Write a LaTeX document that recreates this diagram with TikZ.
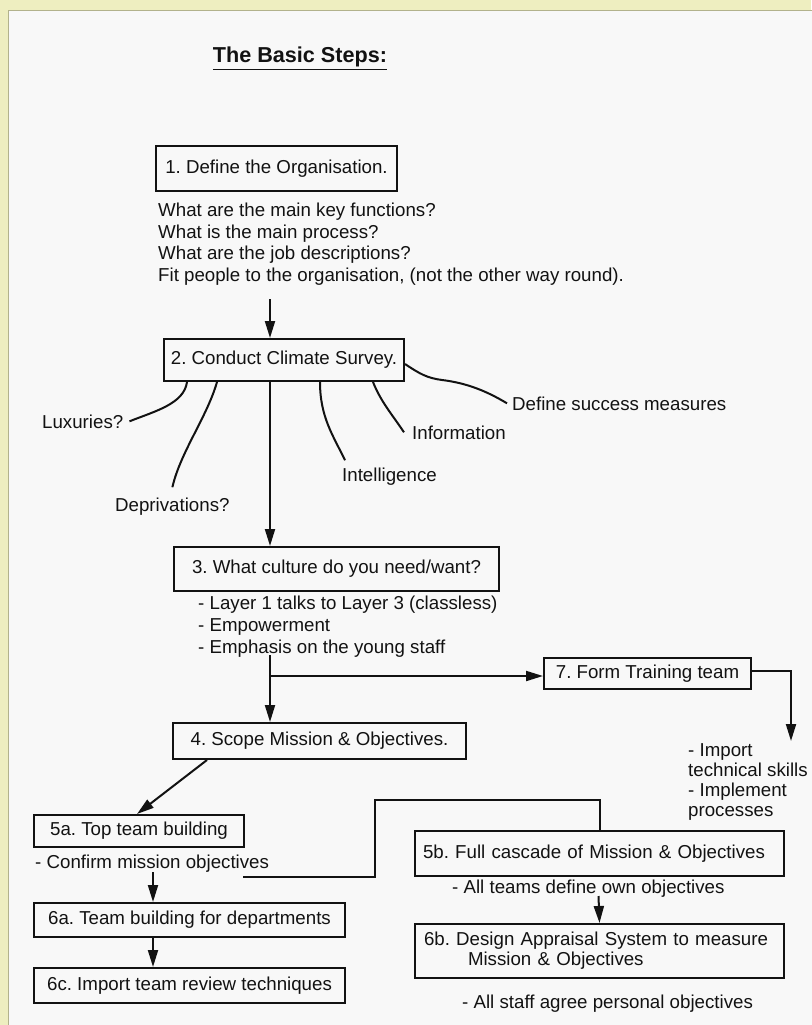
\documentclass[tikz,border=0pt]{standalone}
\usepackage{fontspec}
\setmainfont{Liberation Sans}
\usetikzlibrary{arrows.meta,calc}
\definecolor{bgyellow}{RGB}{238,238,192}
\definecolor{edgeolive}{RGB}{178,178,140}
\definecolor{paper}{RGB}{248,248,248}
\definecolor{ink}{RGB}{18,18,18}
\frenchspacing
\begin{document}
\begin{tikzpicture}[x=1pt,y=-1pt,
  every node/.style={font=\fontsize{18.7}{21.7}\selectfont, text=ink, inner sep=0pt},
  stepbox/.style={draw=ink, line width=2pt, anchor=north west, inner sep=0pt},
  lbl/.style={anchor=base west},
  conn/.style={draw=ink, line width=2pt},
  arr/.style={conn, -{Triangle[length=17pt,width=10pt]}},
  ]
\useasboundingbox (0,0) rectangle (811,1025);
\fill[bgyellow] (0,0) rectangle (811,1025);
\filldraw[fill=paper, draw=edgeolive, line width=1pt] (8,11) rectangle (830,1040);

% title
\node[anchor=base, font=\fontsize{21.6}{24}\selectfont\bfseries] (title) at (300,63) {\underline{The Basic Steps:}};

% step 1
\node[stepbox, minimum width=241pt, minimum height=45pt] (s1) at (155,145) {1. Define the Organisation.};
\node[lbl] (q1) at (158,216) {What are the main key functions?};
\node[lbl] (q2) at (158,238) {What is the main process?};
\node[lbl] (q3) at (158,259) {What are the job descriptions?};
\node[lbl] (q4) at (158,281) {Fit people to the organisation, (not the other way round).};

% step 2
\node[stepbox, minimum width=240pt, minimum height=42pt] (s2) at (163,338) {2. Conduct Climate Survey.};
\node[lbl] (lux) at (42,428) {Luxuries?};
\node[lbl] (dep) at (115,511) {Deprivations?};
\node[lbl] (int) at (342,481) {Intelligence};
\node[lbl] (info) at (412,439) {Information};
\node[lbl] (dsm) at (512,410) {Define success measures};

% step 3
\node[stepbox, minimum width=325pt, minimum height=44pt] (s3) at (173,546) {3. What culture do you need/want?};
\node[lbl] (b1) at (198,609) {- Layer 1 talks to Layer 3 (classless)};
\node[lbl] (b2) at (198,631) {- Empowerment};
\node[lbl] (b3) at (198,653) {- Emphasis on the young staff};

% step 7
\node[stepbox, minimum width=207pt, minimum height=31pt] (s7) at (543,657) {7. Form Training team};
\node[lbl] (i1) at (688,756) {- Import};
\node[lbl] (i2) at (688,776) {technical skills};
\node[lbl] (i3) at (688,796) {- Implement};
\node[lbl] (i4) at (688,816) {processes};

% step 4
\node[stepbox, minimum width=293pt, minimum height=36pt] (s4) at (172,722) {4. Scope Mission \& Objectives.};

% step 5a, 6a, 6c
\node[stepbox, minimum width=210pt, minimum height=32pt] (s5a) at (33,814) {5a. Top team building};
\node[lbl] (cmo) at (35,868) {- Confirm mission objectives};
\node[stepbox, minimum width=311pt, minimum height=34pt] (s6a) at (33,902) {6a. Team building for departments};
\node[stepbox, minimum width=311pt, minimum height=35pt] (s6c) at (33,967) {6c. Import team review techniques};

% step 5b, 6b
\node[stepbox, minimum width=369pt, minimum height=45pt, text width=353pt, align=left] (s5b) at (414,830) {5b. Full cascade of Mission \& Objectives};
\node[lbl] (ato) at (452,893) {- All teams define own objectives};
\node[stepbox, minimum width=369pt, minimum height=54pt, text width=351pt, align=left,
      font=\fontsize{18.7}{20}\selectfont] (s6b) at (414,923) {6b. Design Appraisal System to measure\\\hspace*{44pt}Mission \& Objectives};
\node[lbl] (asa) at (462,1008) {- All staff agree personal objectives};

% coordinates
\coordinate (a1) at (270,299);
\coordinate (c3) at (270,655);
\coordinate (br) at (270,676);
\coordinate (t7) at (791,741);
\coordinate (c5) at (243,877);
\coordinate (k1) at (375,800);
\coordinate (c6) at (153,872);
\coordinate (c7) at (598.5,896);
\coordinate (dsmid) at (442,380);

% connectors
\draw[arr] (a1) -- (a1 |- s2.north);
\draw[arr] (a1 |- s2.south) -- (a1 |- s3.north);

\draw[conn] ([xshift=24pt]s2.south west) .. controls +(-3,22) and +(25,-10) .. ([xshift=6pt]lux.east);
\draw[conn] ([xshift=54pt]s2.south west) .. controls +(-10,35) and +(8,-35) .. ([yshift=10pt]dep.north);
\draw[conn] ([xshift=157pt]s2.south west) .. controls +(0,35) and +(-12,-25) .. ([xshift=3pt,yshift=7pt]int.north west);
\draw[conn] ([xshift=210pt]s2.south west) .. controls +(8,20) and +(-12,-18) .. ([xshift=-8pt]info.west);
\draw[conn] ([yshift=-4pt]s2.east) .. controls +(15,10) and +(-15,-2) .. (dsmid) .. controls +(25,3) and +(-20,-12) .. ([xshift=-5pt]dsm.west);

\draw[arr] (c3) -- (c3 |- s4.north);
\draw[arr] (br) -- (br -| s7.west);
\draw[arr] ([yshift=3pt]s7.east) -| (t7);

\draw[arr] ([xshift=35pt]s4.south west) -- ([xshift=104pt]s5a.north west);
\draw[conn] (c5) -| (k1) -| (s5b.north);
\draw[arr] (c6) -- (c6 |- s6a.north);
\draw[arr] (c6 |- s6a.south) -- (c6 |- s6c.north);
\draw[arr] (c7) -- (s6b.north);
\end{tikzpicture}
\end{document}
